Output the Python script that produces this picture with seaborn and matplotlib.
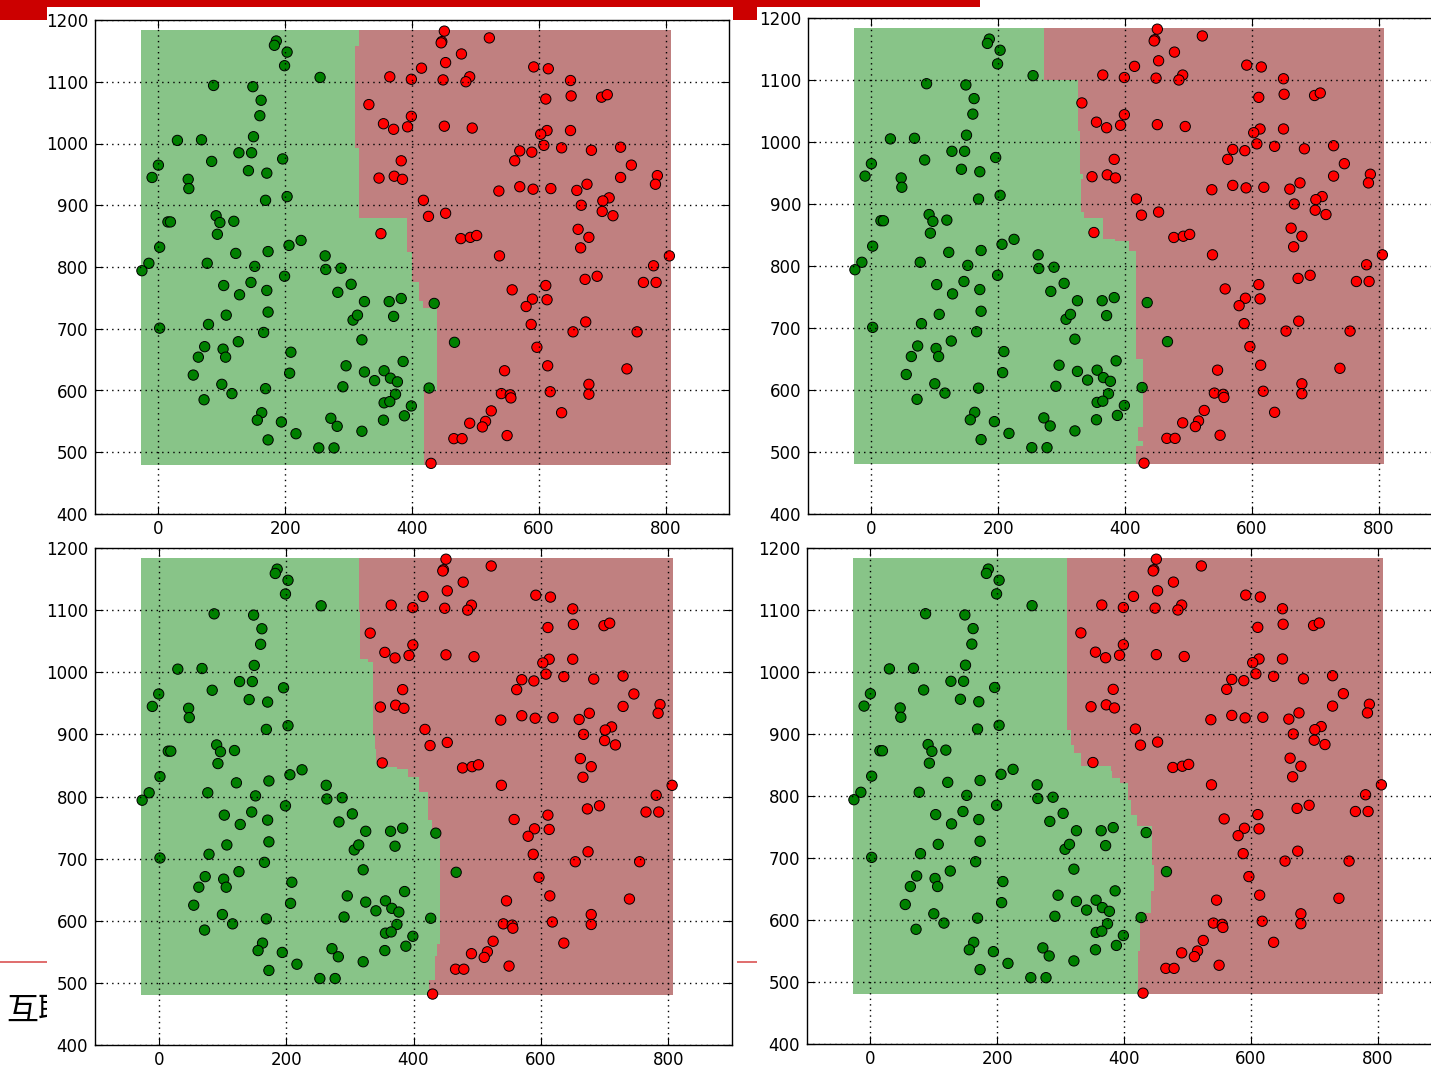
import numpy as np
import pandas as pd
import matplotlib
matplotlib.use("Agg")
import matplotlib.pyplot as plt
import seaborn as sns
from matplotlib.patches import Rectangle
from matplotlib.transforms import Bbox, TransformedBbox

# sample points (same in every panel)
green_x = [186, 183, 203, 199, 87, 149, 162, 160, 30, 68, 150, 127, 147, 196, 0, 84, 142, 171, -10, 47,
           255, 48, 203, 169, 15, 19, 91, 97, 119, 93, 2, 206, 225, 122, 173, -15, -26, 77, 152, 199,
           103, 146, 171, 128, 107, 173, 79, 2, 166, 126, 73, 102, 63, 106, 209, 55, 207, 100, 116, 169,
           72, 163, 156, 194, 217, 173, 253, 277, 307, 314, 371, 321, 467, 296, 325, 356, 386, 341, 366, 377,
           291, 427, 374, 356, 365, 399, 272, 282, 355, 388, 321, 263, 264, 288, 304, 283, 325, 364, 383, 435]
green_y = [1166, 1159, 1148, 1126, 1094, 1092, 1070, 1045, 1005, 1006, 1011, 985, 985, 975, 965, 971, 956, 952, 945, 942,
           1107, 927, 914, 908, 873, 873, 883, 872, 874, 853, 832, 835, 843, 822, 825, 806, 794, 806, 801, 785,
           770, 775, 762, 755, 722, 727, 707, 701, 694, 679, 671, 667, 654, 654, 662, 625, 628, 610, 595, 603,
           585, 564, 552, 549, 530, 520, 507, 507, 714, 722, 720, 682, 678, 640, 630, 632, 647, 616, 620, 614,
           606, 604, 594, 580, 582, 575, 555, 542, 552, 559, 534, 818, 796, 798, 772, 759, 744, 744, 749, 741]

red_x = [430, 525, 491, 516, 511, 466, 479, 588, 674, 654, 755, 597, 546, 614, 739, 679, 679, 618, 541, 555,
         556, 636, 550, 787, 729, 784, 537, 570, 591, 619, 660, 676, 711, 701, 667, 700, 717, 662, 679, 666,
         538, 806, 781, 692, 673, 765, 785, 558, 611, 590, 613, 580, 348, 372, 385, 418, 426, 453, 351, 477,
         492, 502, 451, 447, 446, 522, 478, 453, 415, 365, 399, 449, 491, 485, 332, 399, 355, 371, 393, 451,
         495, 383, 592, 615, 650, 611, 651, 699, 708, 613, 603, 650, 608, 570, 589, 636, 683, 729, 562, 746]
red_y = [482, 567, 547, 550, 541, 522, 522, 707, 711, 695, 695, 670, 632, 640, 635, 610, 594, 598, 595, 593,
         588, 564, 527, 948, 945, 934, 923, 930, 926, 927, 924, 934, 912, 907, 900, 890, 883, 861, 848, 831,
         818, 818, 802, 785, 780, 775, 775, 763, 770, 748, 747, 736, 944, 947, 942, 908, 882, 887, 854, 846,
         848, 851, 1182, 1165, 1163, 1171, 1145, 1131, 1122, 1108, 1104, 1103, 1108, 1100, 1063, 1044, 1032, 1023, 1027, 1028,
         1025, 972, 1124, 1121, 1102, 1072, 1077, 1075, 1079, 1021, 1015, 1021, 997, 988, 986, 993, 989, 994, 972, 965]

# decision boundary per panel: band edges (top -> bottom) and boundary x in each band
tl_edges = [1158, 992, 880, 825, 776, 745, 733, 599]
tl_x = [317, 310, 317, 392, 400, 411, 418, 439, 419]
tr_edges = [1100, 1017, 949, 940, 887, 877, 844, 840, 824, 650, 540, 518, 510]
tr_x = [273, 326, 329, 334, 330, 335, 366, 385, 406, 418, 429, 420, 429, 418]
bl_edges = [1097, 1022, 1017, 901, 877, 856, 848, 845, 831, 807, 762, 748, 563, 544, 504]
bl_x = [314, 316, 328, 336, 339, 341, 358, 374, 391, 409, 422, 429, 442, 437, 434, 424]
br_edges = [907, 883, 870, 848, 841, 829, 821, 794, 770, 751, 689, 646, 611, 550]
br_x = [310, 317, 321, 332, 379, 381, 394, 406, 411, 420, 444, 447, 442, 426, 422]

df = pd.DataFrame({
    "x": green_x + red_x,
    "y": green_y + red_y,
    "cls": ["g"] * len(green_x) + ["r"] * len(red_x),
})

plt.rcParams.update({
    "font.family": "DejaVu Sans",
    "font.size": 12,
    "axes.edgecolor": "black",
    "axes.linewidth": 1.0,
    "xtick.direction": "in",
    "ytick.direction": "in",
    "xtick.top": True,
    "ytick.right": True,
    "xtick.major.size": 6,
    "ytick.major.size": 6,
    "xtick.major.pad": 4,
    "ytick.major.pad": 5,
})

W, H = 1431, 1067
fig = plt.figure(figsize=(W / 100, H / 100), dpi=100)


def fr(x0, y0, x1, y1):
    # pixel box -> figure fraction
    return [x0 / W, 1 - y1 / H, (x1 - x0) / W, (y1 - y0) / H]


# slide decorations behind the charts
for (x0, y0, x1, y1, c) in [(0, 0, 47, 20, "#cc0000"), (47, 0, 733, 7, "#cc0000"),
                            (733, 0, 757, 20, "#cc0000"), (757, 0, 980, 7, "#cc0000"),
                            (0, 961, 47, 963, "#e07070"), (737, 961, 757, 963, "#e07070")]:
    b = fr(x0, y0, x1, y1)
    fig.patches.append(Rectangle((b[0], b[1]), b[2], b[3], transform=fig.transFigure,
                                 color=c, lw=0, zorder=-2))
t = fig.text(6 / W, 1 - 1011 / H, "互联网", fontsize=23, va="center", ha="left",
             family=["Noto Sans CJK SC", "DejaVu Sans"], zorder=-2)
t.set_clip_box(TransformedBbox(Bbox([[0, 0], [47 / W, 1]]), fig.transFigure))
t.set_clip_on(True)

panels = [
    (fr(95, 20, 729, 514), tl_edges, tl_x),
    (fr(808, 18, 1442, 514), tr_edges, tr_x),
    (fr(95, 548, 732, 1045), bl_edges, bl_x),
    (fr(807, 548, 1441, 1044), br_edges, br_x),
]

xmin_r, xmax_r = min(df.x) - 2, max(df.x) + 2
ymin_r, ymax_r = min(df.y) - 2, max(df.y) + 2

for pos, edges, bx in panels:
    ax = fig.add_axes(pos)
    y_full = [ymax_r] + edges + [ymin_r]
    y_asc = np.array(y_full[::-1], dtype=float)
    x_asc = np.array(bx[::-1] + [bx[0]], dtype=float)
    ax.fill_betweenx(y_asc, xmin_r, x_asc, step="post", color="#88c488", lw=0, zorder=1)
    ax.fill_betweenx(y_asc, x_asc, xmax_r, step="post", color="#c08080", lw=0, zorder=1)
    sns.scatterplot(data=df, x="x", y="y", hue="cls", palette={"g": "#008000", "r": "#ff0000"},
                    s=55, edgecolor="black", linewidth=0.7, legend=False, ax=ax, zorder=2)
    ax.set_xlim(-100, 900)
    ax.set_ylim(400, 1200)
    ax.set_xticks([0, 200, 400, 600, 800])
    ax.set_yticks(np.arange(400, 1201, 100))
    ax.set_xlabel("")
    ax.set_ylabel("")
    ax.grid(True, color="black", linestyle=(0, (1, 3)), linewidth=1.0, zorder=3)
    ax.set_axisbelow(False)

fig.savefig("out.png", dpi=100)
